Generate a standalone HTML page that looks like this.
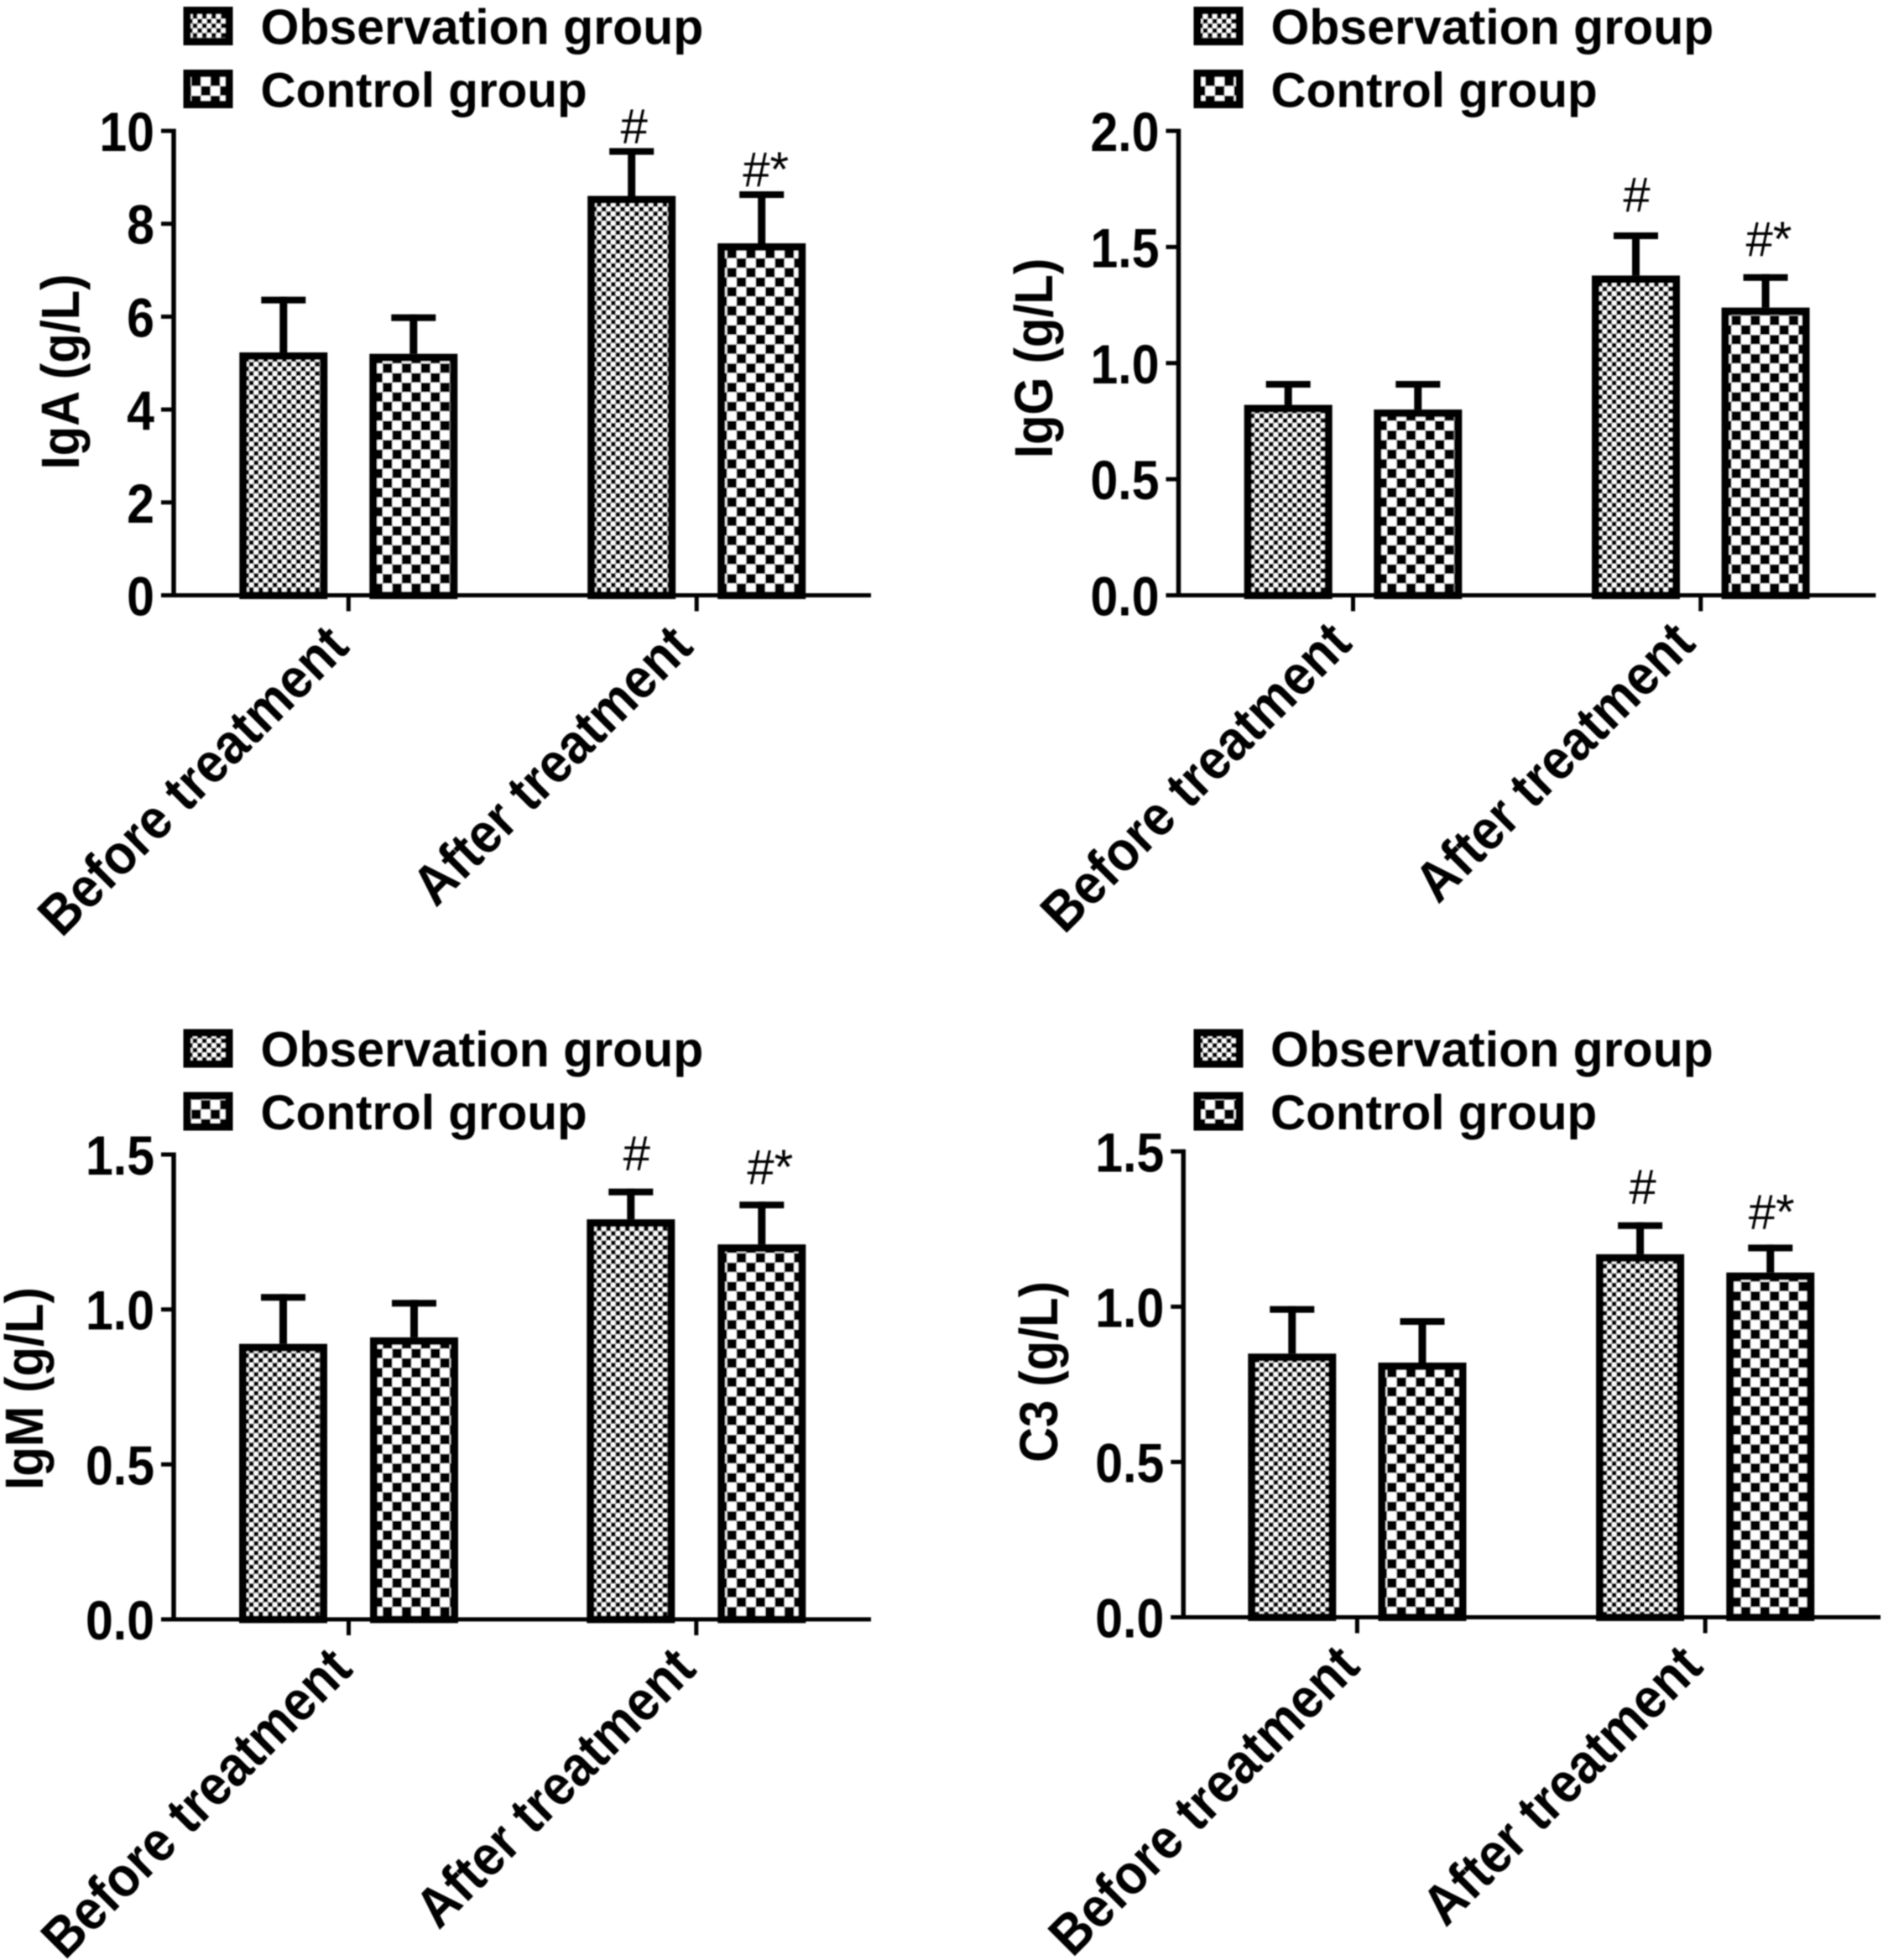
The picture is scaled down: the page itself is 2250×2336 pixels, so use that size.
<!DOCTYPE html>
<html lang="en">
<head>
<meta charset="utf-8">
<title>Immunoglobulin levels before and after treatment</title>
<style>
html,body{margin:0;padding:0;background:#fff;}
svg{display:block;}
text{font-family:"Liberation Sans",sans-serif;fill:#000;}
.b{font-weight:bold;}
</style>
</head>
<body>
<svg id="chart" xmlns="http://www.w3.org/2000/svg" width="2250" height="2336" viewBox="0 0 2250 2336">
<defs>
<pattern id="fine" patternUnits="userSpaceOnUse" width="11.2" height="11.2"><rect width="11.2" height="11.2" fill="#fff"/><rect width="5.6" height="5.6" fill="#000"/><rect x="5.6" y="5.6" width="5.6" height="5.6" fill="#000"/></pattern>
<pattern id="coarse" patternUnits="userSpaceOnUse" width="22.8" height="22.8"><rect width="22.8" height="22.8" fill="#fff"/><rect width="11.4" height="11.4" fill="#000"/><rect x="11.4" y="11.4" width="11.4" height="11.4" fill="#000"/></pattern>
<filter id="soft" x="0" y="0" width="100%" height="100%"><feGaussianBlur stdDeviation="0.7"/></filter>
</defs>
<g id="root" filter="url(#soft)"></g>
</svg>
<script>
const categories = ["Before treatment", "After treatment"];
const seriesNames = ["Observation group", "Control group"];

const igaTicks = ["0", "2", "4", "6", "8", "10"];
const igaObservation = [5.23, 8.6];
const igaControl = [5.2, 7.58];
const igaObservationErr = [1.2, 1.03];
const igaControlErr = [0.85, 1.12];

const iggTicks = ["0.0", "0.5", "1.0", "1.5", "2.0"];
const iggObservation = [0.82, 1.377];
const iggControl = [0.8, 1.239];
const iggObservationErr = [0.103, 0.186];
const iggControlErr = [0.123, 0.144];

const igmTicks = ["0.0", "0.5", "1.0", "1.5"];
const igmObservation = [0.889, 1.291];
const igmControl = [0.91, 1.21];
const igmObservationErr = [0.161, 0.099];
const igmControlErr = [0.121, 0.138];

const c3Ticks = ["0.0", "0.5", "1.0", "1.5"];
const c3Observation = [0.849, 1.169];
const c3Control = [0.82, 1.11];
const c3ObservationErr = [0.153, 0.103];
const c3ControlErr = [0.143, 0.09];

const significance = [["", "#"], ["", "#*"]];

const NS = "http://www.w3.org/2000/svg";
const root = document.getElementById("root");

function make(parent, tag, attrs, content) {
  const node = document.createElementNS(NS, tag);
  for (const k in attrs) node.setAttribute(k, attrs[k]);
  if (content !== undefined) node.textContent = content;
  parent.appendChild(node);
  return node;
}

function place(x, y, angle, stretch) {
  return "translate(" + x + " " + y + ") rotate(" + angle + ") scale(1 " + stretch + ")";
}

function drawPanel(id, title, ticks, obs, ctrl, obsErr, ctrlErr, g) {
  const panel = make(root, "g", {});
  
  

  const yMax = parseFloat(ticks[ticks.length - 1]);
  const yScale = v => g.y0 - (v / yMax) * (g.y0 - g.yTop);
  const catCenter = i => g.axisX + g.firstCat + i * g.catStep;
  const barCenter = (i, s) => catCenter(i) + (s === 0 ? -1 : 1) * g.barOffset;

  // legend
  seriesNames.forEach((name, s) => {
    const ly = g.legendY + s * 75;
    const sw = make(panel, "rect", {x: g.axisX + g.legendX + 4.5, y: ly, width: 50, height: 37, fill: s === 0 ? "url(#fine)" : "url(#coarse)", stroke: "#000", "stroke-width": 9});
    
    
    const lt = make(panel, "text", {x: g.axisX + g.legendText, y: ly + 40, "font-size": s === 0 ? 59 : 58.4, class: "b"}, name);
    
    
  });

  // bars and error bars
  [obs, ctrl].forEach((vals, s) => {
    const errs = s === 0 ? obsErr : ctrlErr;
    vals.forEach((v, i) => {
      const cx = barCenter(i, s);
      const top = yScale(v);
      const errTop = yScale(v + errs[i]);
      const stem = make(panel, "line", {x1: cx, x2: cx, y1: top, y2: errTop, stroke: "#000", "stroke-width": 9});
      
      
      const cap = make(panel, "line", {x1: cx - 26.5, x2: cx + 26.5, y1: errTop + 4, y2: errTop + 4, stroke: "#000", "stroke-width": 8});
      
      
      const bar = make(panel, "rect", {x: cx - 48, y: top + 4.5, width: 96, height: g.y0 - top - 4.5, fill: s === 0 ? "url(#fine)" : "url(#coarse)", stroke: "#000", "stroke-width": 9});
      
      
      const mark = significance[s][i];
      if (mark) {
        const m = make(panel, "text", {x: cx + g.markDx[s], y: errTop + g.markGap[s], "font-size": 58, "text-anchor": "middle"}, mark);
        
        
      }
    });
  });

  // axes
  const yAxis = make(panel, "line", {x1: g.axisX, x2: g.axisX, y1: g.yTop - 2.5, y2: g.y0 + 2, stroke: "#000", "stroke-width": 5.5});
  
  
  const xAxis = make(panel, "line", {x1: g.axisX - 15, x2: g.axisX + 831, y1: g.y0, y2: g.y0, stroke: "#000", "stroke-width": 5});
  
  

  ticks.forEach(label => {
    const y = yScale(parseFloat(label));
    const t = make(panel, "line", {x1: g.axisX - 15, x2: g.axisX, y1: y, y2: y, stroke: "#000", "stroke-width": 5});
    
    
    const tl = make(panel, "text", {"font-size": 59, "text-anchor": "end", class: "b", transform: place(g.axisX - 23, y + 24, 0, 1.12)}, label);
    
    
  });

  categories.forEach((c, i) => {
    const x = catCenter(i);
    const t = make(panel, "line", {x1: x, x2: x, y1: g.y0, y2: g.y0 + 19, stroke: "#000", "stroke-width": 5});
    
    
    const tl = make(panel, "text", {"font-size": 61, "text-anchor": "end", class: "b", transform: place(x + 4 + g.labelDx[i], g.y0 + 60 + g.labelDy, -45, 1.1)}, c);
    
    
  });

  const yt = make(panel, "text", {"font-size": 58, "text-anchor": "middle", class: "b", transform: place(g.titleX, g.titleY, -90, 1.1)}, title);
  
  
}

drawPanel("iga", "IgA (g/L)", igaTicks, igaObservation, igaControl, igaObservationErr, igaControlErr,
  {axisX: 207, yTop: 156, y0: 709.5, firstCat: 208.3, catStep: 414.9, barOffset: 77.5, legendY: 12.5, legendX: 11.5, legendText: 103.5, titleX: 94, titleY: 443, markGap: [-6, -6], markDx: [3, 5], labelDx: [-0.8, -5.7], labelDy: 4});
drawPanel("igg", "IgG (g/L)", iggTicks, iggObservation, iggControl, iggObservationErr, iggControlErr,
  {axisX: 1404.5, yTop: 156, y0: 709.5, firstCat: 208, catStep: 414.3, barOffset: 77.3, legendY: 12.5, legendX: 18, legendText: 110, titleX: 1254, titleY: 427, markGap: [-25, -22], markDx: [1, 4], labelDx: [-3, -7.8], labelDy: 0});
drawPanel("igm", "IgM (g/L)", igmTicks, igmObservation, igmControl, igmObservationErr, igmControlErr,
  {axisX: 207, yTop: 1376, y0: 1930, firstCat: 208.5, catStep: 414.3, barOffset: 78, legendY: 1231, legendX: 11.5, legendText: 103.5, titleX: 51, titleY: 1655, markGap: [-22, -21], markDx: [7, 10], labelDx: [3, -1.8], labelDy: 2});
drawPanel("c3", "C3 (g/L)", c3Ticks, c3Observation, c3Control, c3ObservationErr, c3ControlErr,
  {axisX: 1410.3, yTop: 1372.3, y0: 1927.5, firstCat: 207.1, catStep: 414.8, barOffset: 77.6, legendY: 1231, legendX: 12.2, legendText: 103.7, titleX: 1260, titleY: 1635, markGap: [-22, -19], markDx: [3, 1.5], labelDx: [1.7, -4.2], labelDy: 1.5});
</script>
</body>
</html>
